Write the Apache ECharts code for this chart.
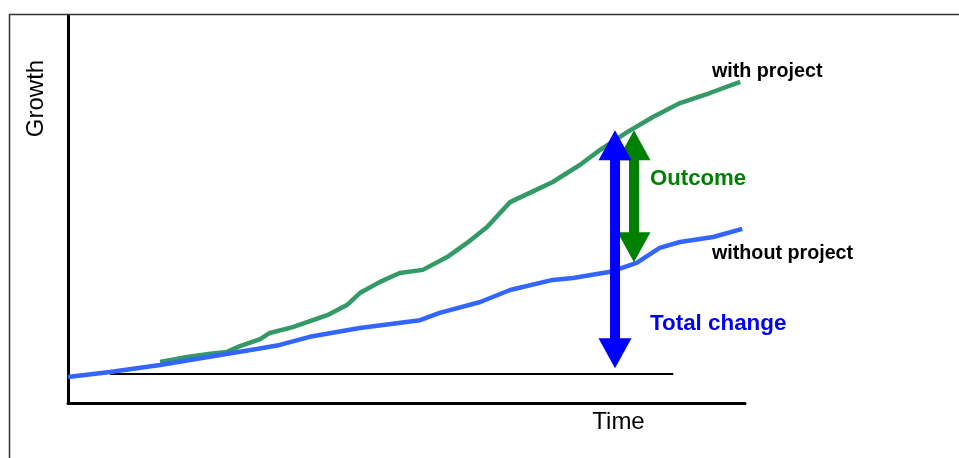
<!DOCTYPE html>
<html>
<head>
<meta charset="utf-8">
<script src="https://cdn.jsdelivr.net/npm/echarts@6/dist/echarts.min.js"></script>
<style>
html,body{margin:0;padding:0;background:#fff;}
#chart{width:959px;height:458px;}
</style>
</head>
<body>
<div id="chart"></div>
<script>
// Data (time 0-100, growth 0-100, arbitrary units)
const withoutTime   = [0, 6.2, 13.6, 20.7, 28.1, 31.3, 35.7, 43.1, 52.0, 54.9, 60.9, 65.3, 71.6, 74.6, 80.1, 84.0, 87.4, 90.4, 95.3, 99.6];
const withoutGrowth = [6.7, 8.0, 9.8, 11.9, 14.0, 15.0, 17.1, 19.4, 21.4, 23.3, 26.1, 29.2, 31.8, 32.3, 33.9, 36.2, 40.1, 41.6, 42.9, 45.0];
const withTime   = [13.6, 17.6, 21.0, 23.5, 25.4, 28.4, 29.8, 33.2, 38.3, 41.2, 43.1, 46.1, 49.0, 52.4, 56.0, 58.9, 61.9, 65.3, 68.2, 71.6, 75.6, 78.6, 82.6, 86.4, 90.4, 94.8, 99.3];
const withGrowth = [10.6, 11.9, 12.7, 13.2, 14.7, 16.5, 18.1, 19.6, 22.7, 25.3, 28.4, 31.3, 33.6, 34.4, 37.7, 41.3, 45.5, 51.9, 54.3, 57.1, 61.5, 65.4, 70.0, 73.9, 77.5, 80.1, 83.0];
const baselineTime = [6.2, 89.4];
const baselineGrowth = [7.5, 7.5];
// arrows: [time, top growth, bottom growth]
const outcomeArrow = [83.6, 70.5, 36.4];
const totalArrow   = [80.8, 70.5, 9.0];

const zip = (a, b) => a.map((v, i) => [v, b[i]]);

function arrowRender(color) {
  return function (params, api) {
    const t = api.value(0);
    const top = api.coord([t, api.value(1)]);
    const bot = api.coord([t, api.value(2)]);
    const hw = 16.5, hh = 30, sw = 5;
    const x = top[0];
    return {
      type: 'group',
      children: [
        { type: 'rect', shape: { x: x - sw, y: top[1] + hh - 1, width: sw * 2, height: bot[1] - top[1] - 2 * hh + 2 }, style: { fill: color } },
        { type: 'polygon', shape: { points: [[x, top[1]], [x - hw, top[1] + hh], [x + hw, top[1] + hh]] }, style: { fill: color } },
        { type: 'polygon', shape: { points: [[x, bot[1]], [x - hw, bot[1] - hh], [x + hw, bot[1] - hh]] }, style: { fill: color } }
      ]
    };
  };
}

const chart = echarts.init(document.getElementById('chart'));
chart.setOption({
  animation: false,
  backgroundColor: '#fff',
  grid: { left: 68, right: 214, top: 16, bottom: 55 },
  xAxis: {
    type: 'value', min: 0, max: 100,
    axisLine: { show: true, onZero: false, lineStyle: { color: '#000', width: 3 } },
    axisTick: { show: false }, axisLabel: { show: false }, splitLine: { show: false }
  },
  yAxis: {
    type: 'value', min: 0, max: 100,
    axisLine: { show: true, onZero: false, lineStyle: { color: '#000', width: 3 } },
    axisTick: { show: false }, axisLabel: { show: false }, splitLine: { show: false }
  },
  graphic: [
    { type: 'rect', shape: { x: 9.5, y: 14.5, width: 1000, height: 1000 }, style: { fill: 'none', stroke: '#333', lineWidth: 1.5 }, z: -10, silent: true },
    { type: 'text', x: 36, y: 98.5, rotation: Math.PI / 2, style: { text: 'Growth', font: '24px "Liberation Sans", Arial, sans-serif', fill: '#000', align: 'center', verticalAlign: 'middle' } },
    { type: 'text', x: 618.5, y: 422, style: { text: 'Time', font: '24px "Liberation Sans", Arial, sans-serif', fill: '#000', align: 'center', verticalAlign: 'middle' } },
    { type: 'text', x: 712, y: 72, style: { text: 'with project', font: 'bold 19.7px "Liberation Sans", Arial, sans-serif', fill: '#000', align: 'left', verticalAlign: 'middle' } },
    { type: 'text', x: 712, y: 254, style: { text: 'without project', font: 'bold 19.7px "Liberation Sans", Arial, sans-serif', fill: '#000', align: 'left', verticalAlign: 'middle' } },
    { type: 'text', x: 650, y: 178.5, style: { text: 'Outcome', font: 'bold 22.2px "Liberation Sans", Arial, sans-serif', fill: '#008000', align: 'left', verticalAlign: 'middle' } },
    { type: 'text', x: 650, y: 323.5, style: { text: 'Total change', font: 'bold 22.4px "Liberation Sans", Arial, sans-serif', fill: '#0000ff', align: 'left', verticalAlign: 'middle' } }
  ],
  series: [
    { name: 'baseline', type: 'line', data: zip(baselineTime, baselineGrowth), showSymbol: false, lineStyle: { color: '#000', width: 2 }, z: 1 },
    { name: 'with project', type: 'line', data: zip(withTime, withGrowth), showSymbol: false, lineStyle: { color: '#339966', width: 4.5 }, z: 2 },
    { name: 'without project', type: 'line', data: zip(withoutTime, withoutGrowth), showSymbol: false, lineStyle: { color: '#3366ff', width: 4.5 }, z: 3 },
    { name: 'Outcome', type: 'custom', data: [outcomeArrow], renderItem: arrowRender('#008000'), z: 4 },
    { name: 'Total change', type: 'custom', data: [totalArrow], renderItem: arrowRender('#0000ff'), z: 5 }
  ]
});
</script>
</body>
</html>
